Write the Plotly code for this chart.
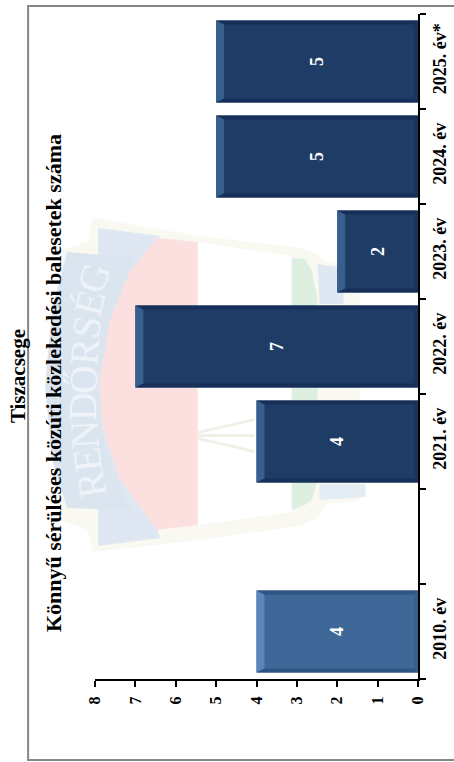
import plotly.graph_objects as go

categories = ["2010. év", " ", "2021. év", "2022. év", "2023. év", "2024. év", "2025. év*"]
values = [4, None, 4, 7, 2, 5, 5]
bar_colors = ["#3f6898", "#1e3c66", "#1e3c66", "#1e3c66", "#1e3c66", "#1e3c66", "#1e3c66"]
bevel_light = ["#5b86bb", "#38608f", "#38608f", "#38608f", "#38608f", "#38608f", "#38608f"]
bevel_dark = ["#2f5482", "#16305a", "#16305a", "#16305a", "#16305a", "#16305a", "#16305a"]
bevel_end = ["#38608f", "#1a3558", "#1a3558", "#1a3558", "#1a3558", "#1a3558", "#1a3558"]
title_lines = ["Tiszacsege", "Könnyű sérüléses közúti közlekedési balesetek száma"]
value_ticks = [0, 1, 2, 3, 4, 5, 6, 7, 8]
SERIF = "Liberation Serif"

W, H = 454, 762
L, R, T, B = 95.0, 418.5, 14.0, 679.0
PX = lambda x: (x - L) / (R - L)
PY = lambda y: (B - y) / (B - T)


def poly(points, fill, line=None, width=0):
    d = "M" + " L".join(f"{PX(x):.4f},{PY(y):.4f}" for x, y in points) + " Z"
    return dict(type="path", xref="paper", yref="paper", path=d, fillcolor=fill,
                line=dict(color=line or fill, width=width), layer="below")


shapes = [
    # page frame
    dict(type="rect", xref="paper", yref="paper", x0=PX(28), x1=PX(480), y0=PY(760), y1=PY(6),
         line=dict(color="#858585", width=2), fillcolor="rgba(0,0,0,0)", layer="below"),
    # watermark crest
    poly([(93, 218), (200, 236), (300, 248), (318, 254), (326, 262), (360, 268), (360, 500),
          (326, 504), (318, 518), (300, 526), (200, 540), (93, 552), (88, 530), (60, 520), (60, 250), (88, 242)],
         "#f9f8f1"),
    poly([(98, 228), (160, 236), (140, 300), (140, 470), (160, 538), (98, 546)], "#dfe8f2"),
    poly([(318, 264), (344, 268), (344, 304), (320, 304)], "#dfe8f2"),
    poly([(320, 484), (366, 484), (366, 497), (320, 500)], "#e4ecf4"),
    poly([(157, 238), (198, 242), (198, 525), (157, 530), (120, 480), (100, 420), (99, 380),
          (102, 330), (120, 285)], "#fce0df"),
    poly([(198, 242), (292, 256), (292, 512), (198, 525)], "#ffffff"),
    poly([(292, 258), (305, 259), (312, 270), (318, 300), (318, 480), (312, 500), (305, 505), (292, 510)],
         "#dcefe1"),
    poly([(67, 252), (135, 258), (110, 320), (99, 385), (104, 440), (125, 500), (132, 510), (67, 508),
          (52, 460), (45, 385), (52, 310)], "#dbe5f0"),
    poly([(198, 431), (255, 418), (255, 421), (198, 434)], "#f1f0e8"),
    poly([(198, 434), (255, 434), (255, 437), (198, 437)], "#f1f0e8"),
    poly([(198, 437), (255, 450), (255, 453), (198, 440)], "#f1f0e8"),
]

# bevels on every bar, derived from the data values
half = 0.432
dx = 8.0 / ((R - L) / 8)
dy = 4.0 / 95.0
de = 4.0 / ((R - L) / 8)
for i, v in enumerate(values):
    if v is None:
        continue
    for pts, col in [
        ([(v, i - half), (v, i + half), (v - dx, i + half - dy), (v - dx, i - half + dy)], bevel_light[i]),
        ([(de, i - half + dy), (de, i + half - dy), (0, i + half), (0, i - half)], bevel_end[i]),
        ([(v, i + half), (0, i + half), (de, i + half - dy), (v - dx, i + half - dy)], bevel_dark[i]),
        ([(v, i - half), (0, i - half), (de, i - half + dy), (v - dx, i - half + dy)], bevel_dark[i]),
    ]:
        path = "M" + " L".join(f"{a:.4f},{b:.4f}" for a, b in pts) + " Z"
        shapes.append(dict(type="path", xref="x", yref="y", path=path, fillcolor=col,
                           line=dict(width=0), layer="above"))

annotations = [
    dict(text=f"<b>{title_lines[0]}</b>", x=PX(18), y=PY(376), xref="paper", yref="paper", showarrow=False,
         xanchor="center", yanchor="middle", textangle=-90, font=dict(family=SERIF, size=21, color="#000000")),
    dict(text=f"<b>{title_lines[1]}</b>", x=PX(53), y=PY(383), xref="paper", yref="paper", showarrow=False,
         xanchor="center", yanchor="middle", textangle=-90, font=dict(family=SERIF, size=22, color="#000000")),
]

# curved ribbon lettering of the watermark
letters = ["R", "E", "N", "D", "Ő", "R", "S", "É", "G"]
letter_x = [92, 87, 84, 83, 83, 84, 86, 89, 93]
letter_y = [485, 460, 435, 407, 380, 352, 327, 303, 278]
letter_a = [-100, -97, -93, -90, -88, -85, -80, -76, -72]
for ch, lx, ly, la in zip(letters, letter_x, letter_y, letter_a):
    annotations.append(dict(text=ch, x=PX(lx), y=PY(ly), xref="paper", yref="paper", showarrow=False,
                            xanchor="center", yanchor="middle", textangle=la,
                            font=dict(family=SERIF, size=40, color="#eef3f8")))

fig = go.Figure(go.Bar(
    x=values, y=categories, orientation="h",
    marker=dict(color=bar_colors, line=dict(width=0)),
    text=[("" if v is None else f"<b>{v}</b>") for v in values],
    textposition="inside", textangle=-90, insidetextanchor="middle",
    textfont=dict(family=SERIF, size=18, color="#ffffff"),
    cliponaxis=False, hoverinfo="skip",
))
fig.update_layout(
    width=W, height=H, margin=dict(l=L, r=W - R, t=T, b=H - B, pad=0),
    paper_bgcolor="#ffffff", plot_bgcolor="rgba(0,0,0,0)", bargap=0.136,
    showlegend=False, shapes=shapes, annotations=annotations,
    font=dict(family=SERIF),
)
fig.update_xaxes(automargin=False, range=[8, 0], tickvals=value_ticks, ticks="outside", ticklen=6, tickwidth=1.5,
                 tickcolor="#000000", showline=True, linecolor="#000000", linewidth=2, showgrid=False, zeroline=False,
                 tickangle=-90, ticklabelstandoff=3,
                 tickfont=dict(family=SERIF, size=16, color="#000000", weight="bold"))
fig.update_yaxes(automargin=False, type="category", categoryorder="array", categoryarray=categories, side="right",
                 range=[-0.5, 6.5], tickson="boundaries", ticks="outside", ticklen=6, tickwidth=1.5,
                 tickcolor="#000000", showline=True, linecolor="#000000", linewidth=2, showgrid=False,
                 zeroline=False, tickangle=-90, ticklabelstandoff=4,
                 tickfont=dict(family=SERIF, size=18, color="#000000", weight="bold"))
fig.write_html("out.html", config=dict(displayModeBar=False),
               post_script="document.body.style.margin='0';")
